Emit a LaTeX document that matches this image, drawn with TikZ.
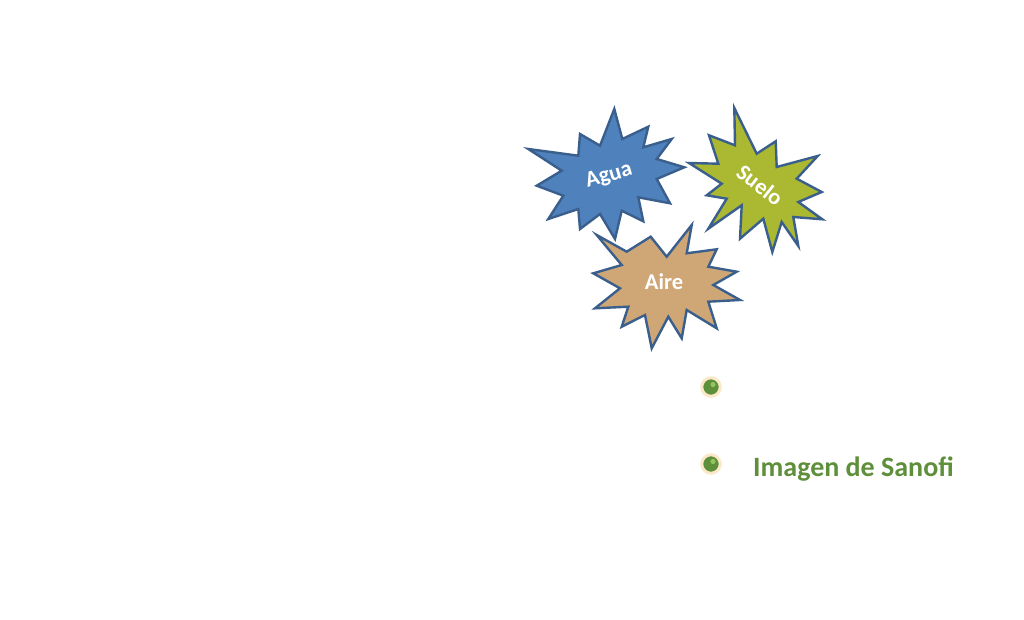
\documentclass[tikz,border=0pt]{standalone}
\usepackage{fontspec}
\usepackage{xcolor}
\usepackage{tikz}
\usetikzlibrary{positioning,calc}
\newfontfamily\calibri{Carlito}

\definecolor{aguablue}{HTML}{4F81BD}
\definecolor{suelogreen}{HTML}{AAB832}
\definecolor{airetan}{HTML}{CFA777}
\definecolor{starline}{HTML}{3A5F8C}
\definecolor{bulletgreen}{HTML}{5E8F3A}
\definecolor{bulletring}{HTML}{FBE8C8}
\definecolor{bullethl}{HTML}{92C55E}

\begin{document}
\begin{tikzpicture}[
        x=1pt, y=-1pt,
        burst/.style={draw=starline, line width=2.4pt, line join=miter},
        startext/.style={text=white, font=\calibri\bfseries\fontsize{22.5}{22.5}\selectfont, inner sep=0pt},
        bullet/.style={circle, fill=bulletgreen, draw=bulletring, line width=3pt, minimum size=18.5pt, inner sep=0pt},
        hl/.style={fill=bullethl},
        label/.style={text=bulletgreen, font=\calibri\bfseries\fontsize{28}{28}\selectfont, inner sep=0pt, anchor=base west},
    ]

        \fill[white] (0,0) rectangle (1024,620);
        \useasboundingbox (0,0) rectangle (1024,620);

        \draw[burst, fill=aguablue] (614.3,109) -- (622.3,139) -- (648.3,126.7) -- (643.3,147.3) -- (671.7,139) -- (656.7,159) -- (684.3,167.3) -- (656.7,179) -- (670,203.3) -- (638.3,197.3) -- (643.3,221.3) -- (621.7,210.7) -- (615,239) -- (600,214) -- (580,229) -- (578.3,209) -- (548.3,219) -- (563.3,195.7) -- (536.7,185.7) -- (561.7,170.7) -- (528.3,149) -- (578.3,155.7) -- (580,134) -- (600,145.7) -- cycle;

        \draw[burst, fill=suelogreen] (734.3,108) -- (756.7,153.7) -- (775.7,141.3) -- (776.7,167) -- (817.7,156) -- (796.7,178.7) -- (821.7,192) -- (798.3,202) -- (822.3,219.3) -- (793.3,217) -- (798.3,246) -- (781.7,222) -- (772.3,252) -- (763.3,218.7) -- (740,238.7) -- (741.7,205.3) -- (708.3,228.7) -- (726.7,198.7) -- (706.7,195.3) -- (721.7,183.7) -- (689,163) -- (718.3,163.7) -- (709,135.3) -- (735,145.3) -- cycle;

        \draw[burst, fill=airetan] (596.7,235) -- (626.7,251.7) -- (650.7,236.7) -- (666.7,256.7) -- (691.7,225) -- (686.7,253.3) -- (716.7,249.3) -- (708.3,266.7) -- (736.7,271.7) -- (713.3,285) -- (740,300) -- (708.3,301.7) -- (716.7,328.3) -- (686.7,310) -- (681.7,338.3) -- (668.3,316.7) -- (651.7,348.3) -- (645,315) -- (621.7,326.7) -- (628.3,306.7) -- (595,308.3) -- (620,288.3) -- (593.3,273.3) -- (621.7,265) -- cycle;

        \node[startext, rotate=16] (agua) at (609,176) {Agua};
        \node[startext, rotate=-38] (suelo) at (760,185) {Suelo};
        \node[startext] (aire) at (664,282) {Aire};

        \node[bullet] (b1) at (711,387) {};
        \node[bullet] (b2) at (711,464) {};
        \fill[hl] ([shift={(2,-2.5)}]b1.center) circle (2.6);
        \fill[hl] ([shift={(2,-2.5)}]b2.center) circle (2.6);

        \node[label] (sanofi) at (753,476) {Imagen de Sanofi};

    \end{tikzpicture}
\end{document}
